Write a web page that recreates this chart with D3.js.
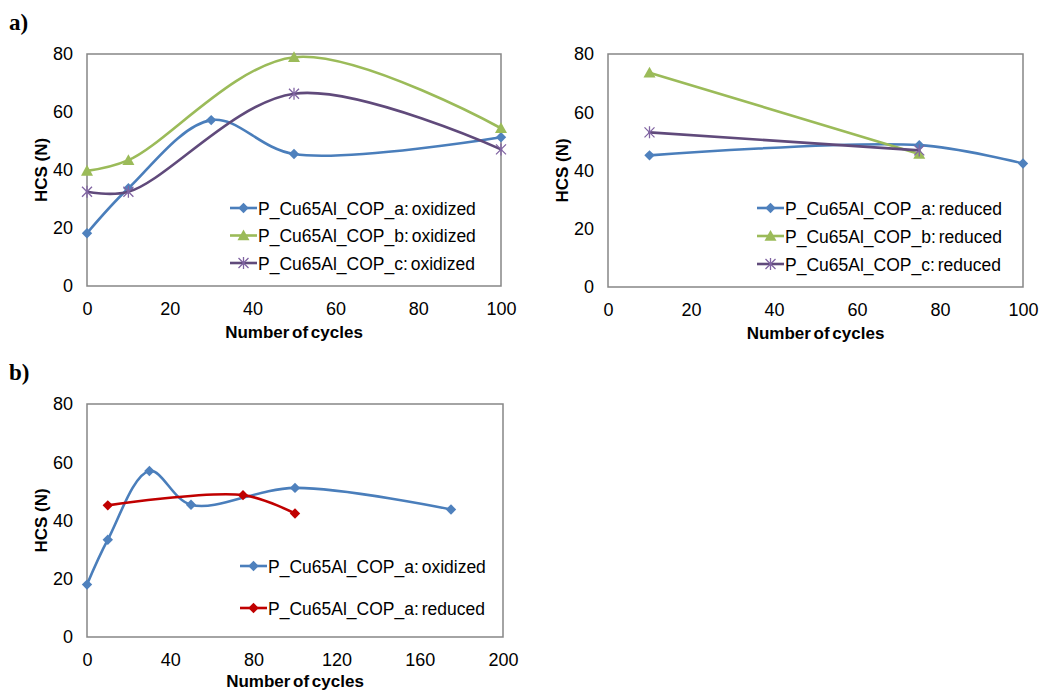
<!DOCTYPE html>
<html>
<head>
<meta charset="utf-8">
<title>HCS vs cycles</title>
<style>
  body { margin: 0; background: #fff; }
  svg text { font-family: "Liberation Sans", Arial, sans-serif; fill: #000; }
  .panel-label { font-family: "Liberation Serif", "Times New Roman", serif; font-weight: bold; font-size: 23px; }
</style>
<script src="https://cdnjs.cloudflare.com/ajax/libs/d3/7.8.5/d3.min.js"></script>
</head>
<body>
<svg id="chart" width="1039" height="691"></svg>
<script>
// ---- data ----
const hcsTicks = [0, 20, 40, 60, 80];
const cycleTicks100 = [0, 20, 40, 60, 80, 100];
const cycleTicks200 = [0, 40, 80, 120, 160, 200];

// panel a, oxidized
const cyclesAOx = [0, 10, 30, 50, 100];
const hcsAOx = [18.2, 33.7, 57.2, 45.5, 51.3];
const cyclesBOx = [0, 10, 50, 100];
const hcsBOx = [39.7, 43.4, 78.9, 54.4];
const cyclesCOx = [0, 10, 50, 100];
const hcsCOx = [32.5, 32.5, 66.3, 47.1];

// panel a, reduced
const cyclesARed = [10, 75, 100];
const hcsARed = [45.2, 48.7, 42.4];
const cyclesBRed = [10, 75];
const hcsBRed = [73.6, 45.7];
const cyclesCRed = [10, 75];
const hcsCRed = [53.1, 46.9];

// panel b
const cyclesAOxLong = [0, 10, 30, 50, 100, 175];
const hcsAOxLong = [18.0, 33.4, 57.0, 45.4, 51.2, 43.8];

const blue = "#4A7EBB", green = "#9BBB59", purple = "#604A7B", red = "#C00000";

const svg = d3.select("#chart");

function zip(xs, ys) { return xs.map((x, i) => ({ x: x, y: ys[i] })); }

// marker shapes
function drawMarker(g, shape, color, cx, cy) {
  if (shape == "diamond") {
    const r = 5.2;
    g.append("path")
      .attr("d", "M" + cx + "," + (cy - r) + "L" + (cx + r) + "," + cy + "L" + cx + "," + (cy + r) + "L" + (cx - r) + "," + cy + "Z")
      .attr("fill", color);
  } else if (shape == "triangle") {
    const r = 6;
    g.append("path")
      .attr("d", "M" + cx + "," + (cy - r) + "L" + (cx + r) + "," + (cy + r * 0.8) + "L" + (cx - r) + "," + (cy + r * 0.8) + "Z")
      .attr("fill", color);
  } else {
    // star: x plus vertical bar
    const r = 5;
    g.append("path")
      .attr("d", "M" + (cx - r) + "," + (cy - r) + "L" + (cx + r) + "," + (cy + r) +
                 "M" + (cx - r) + "," + (cy + r) + "L" + (cx + r) + "," + (cy - r) +
                 "M" + cx + "," + (cy - r - 1) + "L" + cx + "," + (cy + r + 1))
      .attr("stroke", "#8064A2").attr("stroke-width", 1.3).attr("fill", "none");
  }
}

function drawPanel(p) {
  const g = svg.append("g");
  const x = d3.scaleLinear().domain(p.xDomain).range([p.left, p.right]);
  const y = d3.scaleLinear().domain([0, 80]).range([p.bottom, p.top]);

  // plot frame
  g.append("rect")
    .attr("x", p.left).attr("y", p.top)
    .attr("width", p.right - p.left).attr("height", p.bottom - p.top)
    .attr("fill", "none").attr("stroke", "#868686").attr("stroke-width", 1.5);

  // axes (labels only, no tick marks)
  const xAxis = g.append("g").attr("transform", "translate(0," + p.bottom + ")")
    .call(d3.axisBottom(x).tickValues(p.xTicks).tickSize(0).tickPadding(16));
  const yAxis = g.append("g").attr("transform", "translate(" + p.left + ",0)")
    .call(d3.axisLeft(y).tickValues(hcsTicks).tickSize(0).tickPadding(14));
  [xAxis, yAxis].forEach(a => {
    a.select(".domain").remove();
    a.selectAll("text").attr("font-size", 18).attr("font-family", "Liberation Sans, Arial, sans-serif").attr("fill", "#000");
  });

  // axis titles
  g.append("text")
    .attr("x", (p.left + p.right) / 2).attr("y", p.bottom + p.titleOffset)
    .attr("text-anchor", "middle").attr("font-weight", "bold").attr("font-size", 17)
    .attr("word-spacing", -2)
    .text("Number of cycles");
  g.append("text")
    .attr("transform", "translate(" + (p.left - 40) + "," + ((p.top + p.bottom) / 2) + ") rotate(-90)")
    .attr("text-anchor", "middle").attr("font-weight", "bold").attr("font-size", 17)
    .text("HCS (N)");

  // series
  const line = d3.line().x(d => x(d.x)).y(d => y(d.y)).curve(d3.curveCatmullRom.alpha(0.5));
  p.series.forEach(s => {
    const pts = zip(s.xs, s.ys);
    g.append("path").attr("d", line(pts))
      .attr("fill", "none").attr("stroke", s.color).attr("stroke-width", 2.6)
      .attr("stroke-linecap", "round");
    pts.forEach(d => drawMarker(g, s.marker, s.markerColor || s.color, x(d.x), y(d.y)));
  });

  // legend
  p.series.forEach((s, i) => {
    const ly = p.legendY + i * p.legendStep;
    g.append("line")
      .attr("x1", p.legendX).attr("x2", p.legendX + 27)
      .attr("y1", ly).attr("y2", ly)
      .attr("stroke", s.color).attr("stroke-width", 2.6);
    drawMarker(g, s.marker, s.markerColor || s.color, p.legendX + 13.5, ly);
    g.append("text")
      .attr("x", p.legendX + 28).attr("y", ly + 6.5)
      .attr("font-size", 17.5).attr("word-spacing", -2)
      .text(s.name);
  });
}

// panel a, left
drawPanel({
  left: 87, right: 501, top: 54, bottom: 286, titleOffset: 52,
  xDomain: [0, 100], xTicks: cycleTicks100,
  legendX: 230, legendY: 208, legendStep: 27.5,
  series: [
    { name: "P_Cu65Al_COP_a: oxidized", xs: cyclesAOx, ys: hcsAOx, color: blue, markerColor: "#4F81BD", marker: "diamond" },
    { name: "P_Cu65Al_COP_b: oxidized", xs: cyclesBOx, ys: hcsBOx, color: green, marker: "triangle" },
    { name: "P_Cu65Al_COP_c: oxidized", xs: cyclesCOx, ys: hcsCOx, color: purple, marker: "star" }
  ]
});

// panel a, right
drawPanel({
  left: 608, right: 1023, top: 54, bottom: 287, titleOffset: 52,
  xDomain: [0, 100], xTicks: cycleTicks100,
  legendX: 757, legendY: 208, legendStep: 28,
  series: [
    { name: "P_Cu65Al_COP_a: reduced", xs: cyclesARed, ys: hcsARed, color: blue, markerColor: "#4F81BD", marker: "diamond" },
    { name: "P_Cu65Al_COP_b: reduced", xs: cyclesBRed, ys: hcsBRed, color: green, marker: "triangle" },
    { name: "P_Cu65Al_COP_c: reduced", xs: cyclesCRed, ys: hcsCRed, color: purple, marker: "star" }
  ]
});

// panel b
drawPanel({
  left: 87, right: 503, top: 404, bottom: 637, titleOffset: 50,
  xDomain: [0, 200], xTicks: cycleTicks200,
  legendX: 240, legendY: 566, legendStep: 42,
  series: [
    { name: "P_Cu65Al_COP_a: oxidized", xs: cyclesAOxLong, ys: hcsAOxLong, color: blue, markerColor: "#4F81BD", marker: "diamond" },
    { name: "P_Cu65Al_COP_a: reduced", xs: cyclesARed, ys: hcsARed, color: red, marker: "diamond" }
  ]
});

svg.append("text").attr("class", "panel-label").attr("x", 9).attr("y", 30).text("a)");
svg.append("text").attr("class", "panel-label").attr("x", 9).attr("y", 380).text("b)");
</script>
</body>
</html>
